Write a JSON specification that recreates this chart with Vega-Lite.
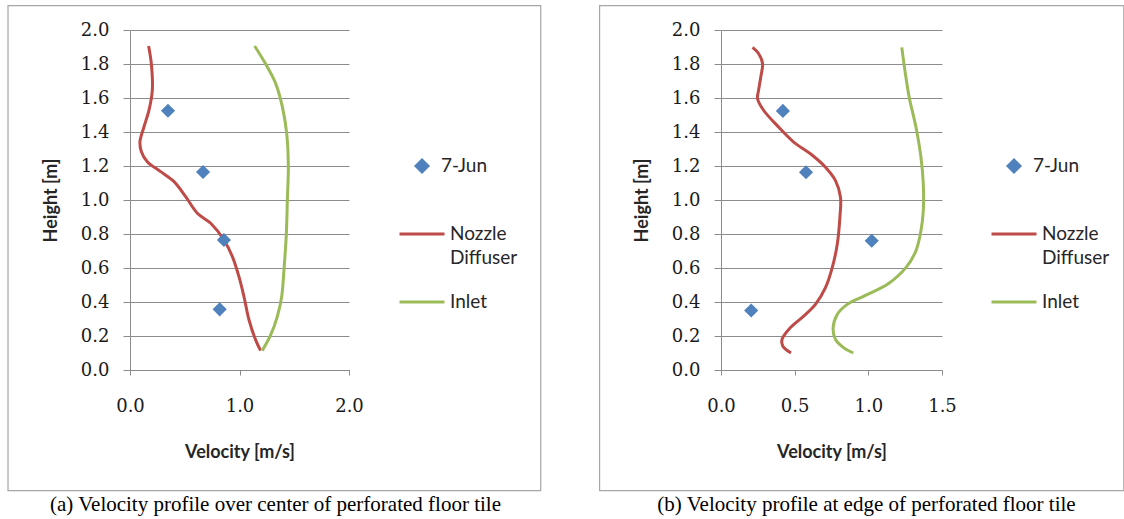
{
  "$schema": "https://vega.github.io/schema/vega-lite/v6.json",
  "background": "white",
  "padding": {"left": 7, "top": 5, "right": 0, "bottom": 0},
  "autosize": {"type": "pad"},
  "bounds": "flush",
  "spacing": 372,
  "config": {
    "view": {"stroke": null},
    "axis": {
      "gridColor": "#8c8c8c", "gridWidth": 1,
      "domainColor": "#8c8c8c", "tickColor": "#8c8c8c",
      "labelFont": "DejaVu Serif", "labelFontSize": 18, "labelColor": "#1a1a1a",
      "labelFlush": false, "labelOverlap": false,
      "titleFont": "Lato", "titleFontSize": 18, "titleFontWeight": "bold", "titleColor": "#262626"
    }
  },
  "resolve": {
    "scale": {"x": "independent", "y": "independent", "color": "independent"},
    "legend": {"color": "independent"},
    "axis": {"x": "independent", "y": "independent"}
  },
  "datasets": {
    "frameA": [{"x0": -1.114, "x1": 3.751, "y0": -0.71, "y1": 2.143}],
    "frameB": [{"x0": -0.824, "x1": 2.734, "y0": -0.71, "y1": 2.143}],
    "lineA": [
      {"series": "Nozzle Diffuser", "v": 0.17, "h": 1.906},
      {"series": "Nozzle Diffuser", "v": 0.195, "h": 1.8},
      {"series": "Nozzle Diffuser", "v": 0.204, "h": 1.647},
      {"series": "Nozzle Diffuser", "v": 0.174, "h": 1.53},
      {"series": "Nozzle Diffuser", "v": 0.128, "h": 1.431},
      {"series": "Nozzle Diffuser", "v": 0.091, "h": 1.343},
      {"series": "Nozzle Diffuser", "v": 0.104, "h": 1.284},
      {"series": "Nozzle Diffuser", "v": 0.158, "h": 1.225},
      {"series": "Nozzle Diffuser", "v": 0.28, "h": 1.167},
      {"series": "Nozzle Diffuser", "v": 0.402, "h": 1.108},
      {"series": "Nozzle Diffuser", "v": 0.508, "h": 1.02},
      {"series": "Nozzle Diffuser", "v": 0.615, "h": 0.922},
      {"series": "Nozzle Diffuser", "v": 0.737, "h": 0.863},
      {"series": "Nozzle Diffuser", "v": 0.858, "h": 0.765},
      {"series": "Nozzle Diffuser", "v": 0.935, "h": 0.667},
      {"series": "Nozzle Diffuser", "v": 0.995, "h": 0.549},
      {"series": "Nozzle Diffuser", "v": 1.041, "h": 0.431},
      {"series": "Nozzle Diffuser", "v": 1.087, "h": 0.294},
      {"series": "Nozzle Diffuser", "v": 1.148, "h": 0.176},
      {"series": "Nozzle Diffuser", "v": 1.193, "h": 0.114},
      {"series": "Inlet", "v": 1.138, "h": 1.906},
      {"series": "Inlet", "v": 1.239, "h": 1.8},
      {"series": "Inlet", "v": 1.33, "h": 1.686},
      {"series": "Inlet", "v": 1.391, "h": 1.549},
      {"series": "Inlet", "v": 1.431, "h": 1.392},
      {"series": "Inlet", "v": 1.446, "h": 1.196},
      {"series": "Inlet", "v": 1.437, "h": 1.0},
      {"series": "Inlet", "v": 1.428, "h": 0.804},
      {"series": "Inlet", "v": 1.406, "h": 0.588},
      {"series": "Inlet", "v": 1.385, "h": 0.431},
      {"series": "Inlet", "v": 1.345, "h": 0.314},
      {"series": "Inlet", "v": 1.285, "h": 0.206},
      {"series": "Inlet", "v": 1.208, "h": 0.114}
    ],
    "ptsA": [
      {"series": "7-Jun", "v": 0.347, "h": 1.525},
      {"series": "7-Jun", "v": 0.667, "h": 1.165},
      {"series": "7-Jun", "v": 0.858, "h": 0.765},
      {"series": "7-Jun", "v": 0.819, "h": 0.357}
    ],
    "lineB": [
      {"series": "Nozzle Diffuser", "v": 0.214, "h": 1.898},
      {"series": "Nozzle Diffuser", "v": 0.255, "h": 1.862},
      {"series": "Nozzle Diffuser", "v": 0.282, "h": 1.803},
      {"series": "Nozzle Diffuser", "v": 0.27, "h": 1.724},
      {"series": "Nozzle Diffuser", "v": 0.255, "h": 1.646},
      {"series": "Nozzle Diffuser", "v": 0.248, "h": 1.596},
      {"series": "Nozzle Diffuser", "v": 0.289, "h": 1.528},
      {"series": "Nozzle Diffuser", "v": 0.38, "h": 1.439},
      {"series": "Nozzle Diffuser", "v": 0.493, "h": 1.341},
      {"series": "Nozzle Diffuser", "v": 0.607, "h": 1.272},
      {"series": "Nozzle Diffuser", "v": 0.709, "h": 1.193},
      {"series": "Nozzle Diffuser", "v": 0.777, "h": 1.114},
      {"series": "Nozzle Diffuser", "v": 0.811, "h": 1.016},
      {"series": "Nozzle Diffuser", "v": 0.807, "h": 0.898},
      {"series": "Nozzle Diffuser", "v": 0.789, "h": 0.74},
      {"series": "Nozzle Diffuser", "v": 0.755, "h": 0.602},
      {"series": "Nozzle Diffuser", "v": 0.709, "h": 0.484},
      {"series": "Nozzle Diffuser", "v": 0.641, "h": 0.386},
      {"series": "Nozzle Diffuser", "v": 0.561, "h": 0.317},
      {"series": "Nozzle Diffuser", "v": 0.47, "h": 0.248},
      {"series": "Nozzle Diffuser", "v": 0.414, "h": 0.179},
      {"series": "Nozzle Diffuser", "v": 0.42, "h": 0.14},
      {"series": "Nozzle Diffuser", "v": 0.475, "h": 0.1},
      {"series": "Inlet", "v": 1.227, "h": 1.898},
      {"series": "Inlet", "v": 1.248, "h": 1.764},
      {"series": "Inlet", "v": 1.277, "h": 1.606},
      {"series": "Inlet", "v": 1.323, "h": 1.429},
      {"series": "Inlet", "v": 1.357, "h": 1.252},
      {"series": "Inlet", "v": 1.373, "h": 1.094},
      {"series": "Inlet", "v": 1.373, "h": 0.937},
      {"series": "Inlet", "v": 1.357, "h": 0.819},
      {"series": "Inlet", "v": 1.323, "h": 0.701},
      {"series": "Inlet", "v": 1.255, "h": 0.602},
      {"series": "Inlet", "v": 1.13, "h": 0.504},
      {"series": "Inlet", "v": 0.97, "h": 0.435},
      {"series": "Inlet", "v": 0.857, "h": 0.386},
      {"series": "Inlet", "v": 0.789, "h": 0.327},
      {"series": "Inlet", "v": 0.761, "h": 0.248},
      {"series": "Inlet", "v": 0.777, "h": 0.179},
      {"series": "Inlet", "v": 0.834, "h": 0.13},
      {"series": "Inlet", "v": 0.898, "h": 0.1}
    ],
    "ptsB": [
      {"series": "7-Jun", "v": 0.42, "h": 1.524},
      {"series": "7-Jun", "v": 0.577, "h": 1.163},
      {"series": "7-Jun", "v": 1.023, "h": 0.76},
      {"series": "7-Jun", "v": 0.205, "h": 0.35}
    ]
  },
  "hconcat": [
    {
      "width": 219, "height": 340,
      "title": {"text": "(a) Velocity profile over center of perforated floor tile", "orient": "bottom", "anchor": "middle", "frame": "group", "dx": 36, "offset": 20, "baseline": "alphabetic", "font": "Liberation Serif", "fontSize": 21, "fontWeight": "normal", "color": "#000000"},
      "layer": [
        {
          "data": {"name": "frameA"},
          "mark": {"type": "rect", "filled": false, "color": "#a6a6a6", "strokeWidth": 1.2, "clip": false},
          "encoding": {
            "x": {"field": "x0", "type": "quantitative", "scale": {"domain": [0, 2], "nice": false, "zero": false},
                  "axis": {"title": "Velocity [m/s]", "values": [0, 1, 2], "tickCount": 20, "format": ".1f", "grid": false, "tickSize": 5, "labelPadding": 22, "titlePadding": 28}},
            "x2": {"field": "x1"},
            "y": {"field": "y0", "type": "quantitative", "scale": {"domain": [0, 2], "nice": false, "zero": false},
                  "axis": {"title": "Height [m]", "values": [0, 0.2, 0.4, 0.6, 0.8, 1.0, 1.2, 1.4, 1.6, 1.8, 2.0], "tickCount": 20, "format": ".1f", "grid": true, "tickSize": 7, "labelPadding": 14, "titlePadding": 20}},
            "y2": {"field": "y1"}
          }
        },
        {
          "data": {"name": "lineA"},
          "mark": {"type": "line", "strokeWidth": 3, "interpolate": "catmull-rom"},
          "encoding": {
            "x": {"field": "v", "type": "quantitative"},
            "y": {"field": "h", "type": "quantitative"},
            "order": {"field": "h", "type": "quantitative"},
            "color": {"field": "series", "type": "nominal",
                      "scale": {"domain": ["7-Jun", "Nozzle Diffuser", "Inlet"], "range": ["#4f81bd", "#be4b48", "#9bbb59"]},
                      "legend": {"orient": "none", "legendX": 268, "legendY": 112, "title": null, "padding": 0,
                                 "labelFont": "Lato", "labelFontSize": 19, "labelColor": "#262626", "labelOffset": 4,
                                 "symbolSize": 2025, "symbolStrokeWidth": 3, "rowPadding": 10,
                                 "labelExpr": "datum.label === 'Nozzle Diffuser' ? ['Nozzle', 'Diffuser'] : [datum.label, ' ']",
                                 "encode": {
                                   "symbols": {"update": {
                                     "shape": {"signal": "datum.value === '7-Jun' ? 'diamond' : 'stroke'"},
                                     "size": {"signal": "datum.value === '7-Jun' ? 140 : 2025"},
                                     "fill": {"signal": "datum.value === '7-Jun' ? '#4f81bd' : 'transparent'"},
                                     "stroke": {"signal": "datum.value === 'Inlet' ? '#9bbb59' : (datum.value === 'Nozzle Diffuser' ? '#be4b48' : 'transparent')"},
                                     "strokeWidth": {"value": 3}
                                   }},
                                   "labels": {"update": {
                                     "dx": {"signal": "datum.value === '7-Jun' ? -9 : 0"},
                                     "lineHeight": {"value": 24}
                                   }}
                                 }}}
          }
        },
        {
          "data": {"name": "ptsA"},
          "mark": {"type": "point", "shape": "diamond", "filled": true, "size": 200, "opacity": 1},
          "encoding": {
            "x": {"field": "v", "type": "quantitative"},
            "y": {"field": "h", "type": "quantitative"},
            "color": {"field": "series", "type": "nominal"}
          }
        }
      ]
    },
    {
      "width": 221, "height": 340,
      "title": {"text": "(b) Velocity profile at edge of perforated floor tile", "orient": "bottom", "anchor": "middle", "frame": "group", "dx": 35, "offset": 20, "baseline": "alphabetic", "font": "Liberation Serif", "fontSize": 21, "fontWeight": "normal", "color": "#000000"},
      "layer": [
        {
          "data": {"name": "frameB"},
          "mark": {"type": "rect", "filled": false, "color": "#a6a6a6", "strokeWidth": 1.2, "clip": false},
          "encoding": {
            "x": {"field": "x0", "type": "quantitative", "scale": {"domain": [0, 1.5], "nice": false, "zero": false},
                  "axis": {"title": "Velocity [m/s]", "values": [0, 0.5, 1, 1.5], "tickCount": 20, "format": ".1f", "grid": false, "tickSize": 5, "labelPadding": 22, "titlePadding": 28}},
            "x2": {"field": "x1"},
            "y": {"field": "y0", "type": "quantitative", "scale": {"domain": [0, 2], "nice": false, "zero": false},
                  "axis": {"title": "Height [m]", "values": [0, 0.2, 0.4, 0.6, 0.8, 1.0, 1.2, 1.4, 1.6, 1.8, 2.0], "tickCount": 20, "format": ".1f", "grid": true, "tickSize": 7, "labelPadding": 14, "titlePadding": 20}},
            "y2": {"field": "y1"}
          }
        },
        {
          "data": {"name": "lineB"},
          "mark": {"type": "line", "strokeWidth": 3, "interpolate": "catmull-rom"},
          "encoding": {
            "x": {"field": "v", "type": "quantitative"},
            "y": {"field": "h", "type": "quantitative"},
            "order": {"field": "h", "type": "quantitative"},
            "color": {"field": "series", "type": "nominal",
                      "scale": {"domain": ["7-Jun", "Nozzle Diffuser", "Inlet"], "range": ["#4f81bd", "#be4b48", "#9bbb59"]},
                      "legend": {"orient": "none", "legendX": 269, "legendY": 112, "title": null, "padding": 0,
                                 "labelFont": "Lato", "labelFontSize": 19, "labelColor": "#262626", "labelOffset": 4,
                                 "symbolSize": 2025, "symbolStrokeWidth": 3, "rowPadding": 10,
                                 "labelExpr": "datum.label === 'Nozzle Diffuser' ? ['Nozzle', 'Diffuser'] : [datum.label, ' ']",
                                 "encode": {
                                   "symbols": {"update": {
                                     "shape": {"signal": "datum.value === '7-Jun' ? 'diamond' : 'stroke'"},
                                     "size": {"signal": "datum.value === '7-Jun' ? 140 : 2025"},
                                     "fill": {"signal": "datum.value === '7-Jun' ? '#4f81bd' : 'transparent'"},
                                     "stroke": {"signal": "datum.value === 'Inlet' ? '#9bbb59' : (datum.value === 'Nozzle Diffuser' ? '#be4b48' : 'transparent')"},
                                     "strokeWidth": {"value": 3}
                                   }},
                                   "labels": {"update": {
                                     "dx": {"signal": "datum.value === '7-Jun' ? -9 : 0"},
                                     "lineHeight": {"value": 24}
                                   }}
                                 }}}
          }
        },
        {
          "data": {"name": "ptsB"},
          "mark": {"type": "point", "shape": "diamond", "filled": true, "size": 200, "opacity": 1},
          "encoding": {
            "x": {"field": "v", "type": "quantitative"},
            "y": {"field": "h", "type": "quantitative"},
            "color": {"field": "series", "type": "nominal"}
          }
        }
      ]
    }
  ]
}
